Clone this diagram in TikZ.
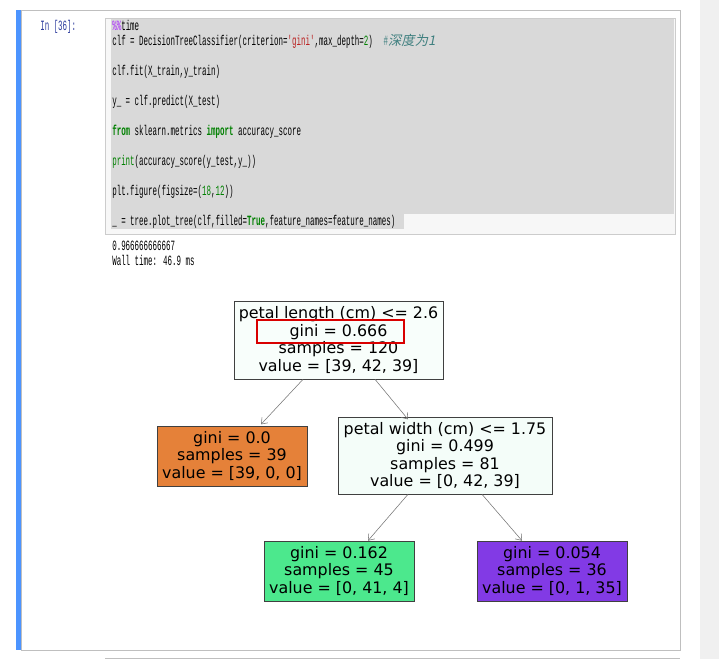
\documentclass[tikz,border=0pt]{standalone}
\usepackage{fontspec}
\setmainfont{DejaVu Sans}
\newfontfamily\codefont[FakeStretch=0.53]{Liberation Mono}
\newfontfamily\cjkfont[FakeSlant=0.2]{Noto Sans CJK SC}
\usetikzlibrary{arrows.meta}
\definecolor{kw}{HTML}{008000}
\definecolor{str}{HTML}{BA2121}
\definecolor{num}{HTML}{008000}
\definecolor{mag}{HTML}{AA22FF}
\definecolor{cmt}{HTML}{408080}
\definecolor{prompt}{HTML}{303F9F}
\begin{document}
\begin{tikzpicture}[x=0.75pt,y=-0.75pt,
  code/.style={anchor=base west,inner sep=0pt,font=\codefont\fontsize{10.6}{12}\selectfont},
  tnode/.style={draw=black!75,line width=0.5pt,align=center,inner sep=0pt,font=\fontsize{11.9}{13.2}\selectfont},
  edge/.style={draw=black!55,line width=0.4pt,-{Straight Barb[length=4pt,width=6pt]}}]
\useasboundingbox (0,0) rectangle (719,659);
\fill[white] (0,0) rectangle (719,659);
\fill[black!6] (700,0) rectangle (719,659);
% cell
\draw[black!25] (21,10) rectangle (680,650);
\fill[blue!60!cyan!70] (16,10) rectangle (21,650);
\draw[black!25] (105,658) -- (680,658);
% input area
\draw[black!20,fill=black!3] (105,18) rectangle (675,234);
\fill[black!15] (111,19) rectangle (674,214);
\fill[black!15] (111,214) rectangle (404,229);
\node[code,text=prompt] (prompt) at (40,31) {In [36]:};
\node[code] (l1) at (112,31) {\textcolor{mag}{\%\%}time};
\node[code] (l2) at (112,46) {clf = DecisionTreeClassifier(criterion=\textcolor{str}{'gini'},max\_depth=\textcolor{num}{2})\hspace{8pt}\textcolor{cmt}{\#\cjkfont\fontsize{10}{10}\selectfont 深度为1}};
\node[code] (l3) at (112,76) {clf.fit(X\_train,y\_train)};
\node[code] (l4) at (112,106) {y\_ = clf.predict(X\_test)};
\node[code] (l5) at (112,136) {\textcolor{kw}{\textbf{from}} sklearn.metrics \textcolor{kw}{\textbf{import}} accuracy\_score};
\node[code] (l6) at (112,166) {\textcolor{kw}{print}(accuracy\_score(y\_test,y\_))};
\node[code] (l7) at (112,196) {plt.figure(figsize=(\textcolor{num}{18},\textcolor{num}{12}))};
\node[code] (l8) at (112,226) {\_ = tree.plot\_tree(clf,filled=\textcolor{kw}{\textbf{True}},feature\_names=feature\_names)};
\node[code] (o1) at (112,251) {0.966666666667};
\node[code] (o2) at (112,266) {Wall time: 46.9 ms};
% tree
\node[tnode,fill={rgb,255:red,248;green,254;blue,251},minimum width=157pt,minimum height=58.5pt] (root) at (338.5,340)
  {petal length (cm) <= 2.6\\gini = 0.666\\samples = 120\\value = [39, 42, 39]};
\draw[red!85!black,line width=1.5pt] (257,320) rectangle (404,343);
\node[tnode,fill={rgb,255:red,229;green,129;blue,57},minimum width=112.5pt,minimum height=45pt] (left) at (232,456)
  {gini = 0.0\\samples = 39\\value = [39, 0, 0]};
\node[tnode,fill={rgb,255:red,244;green,253;blue,249},minimum width=160.5pt,minimum height=57.75pt] (mid) at (445,455.5)
  {petal width (cm) <= 1.75\\gini = 0.499\\samples = 81\\value = [0, 42, 39]};
\node[tnode,fill={rgb,255:red,76;green,232;blue,141},minimum width=112.5pt,minimum height=45pt] (bl) at (339,571)
  {gini = 0.162\\samples = 45\\value = [0, 41, 4]};
\node[tnode,fill={rgb,255:red,130;green,58;blue,229},minimum width=112.5pt,minimum height=45pt] (br) at (552,571)
  {gini = 0.054\\samples = 36\\value = [0, 1, 35]};
\draw[edge] ([xshift=-26.6pt]root.south) -- ([xshift=21.75pt,yshift=1pt]left.north);
\draw[edge] ([xshift=27.4pt]root.south) -- ([xshift=-27.75pt,yshift=-2pt]mid.north);
\draw[edge] ([xshift=-27.75pt]mid.south) -- ([xshift=21.75pt]bl.north);
\draw[edge] ([xshift=27.75pt]mid.south) -- ([xshift=-22.5pt]br.north);
\end{tikzpicture}
\end{document}
